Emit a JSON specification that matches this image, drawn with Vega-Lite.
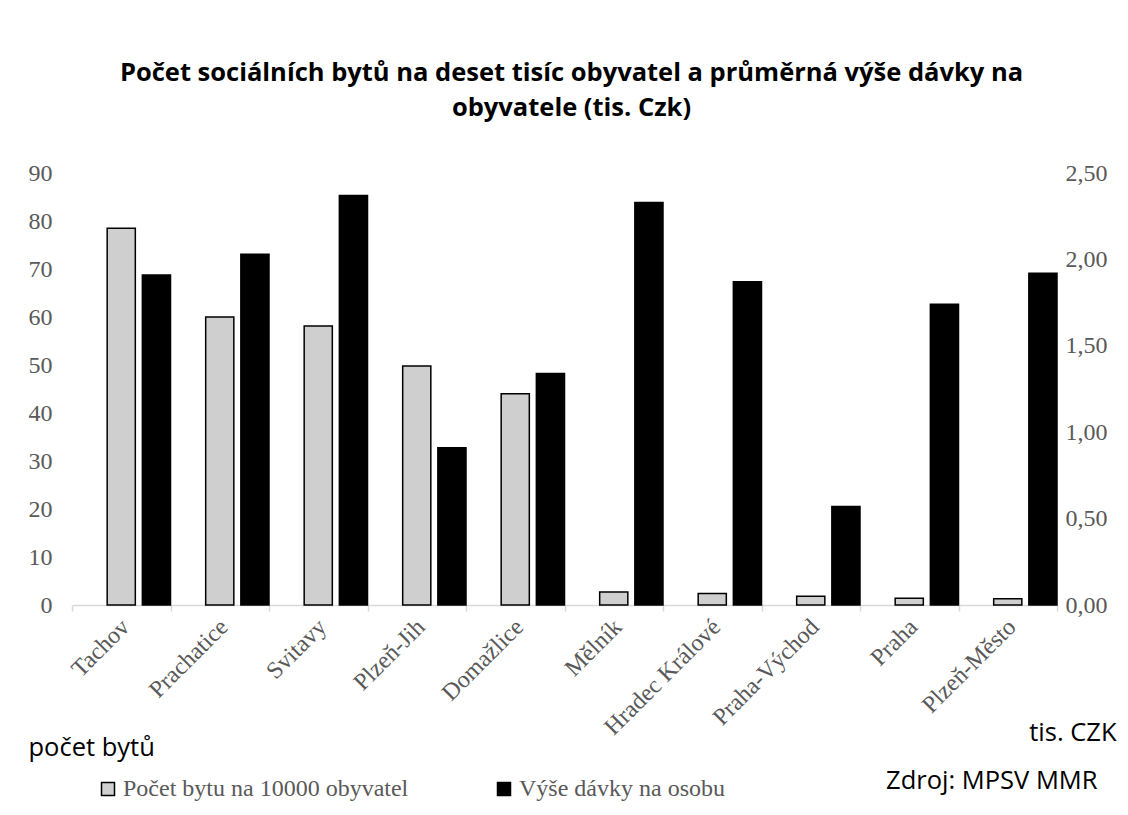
{
  "$schema": "https://vega.github.io/schema/vega-lite/v6.json",
  "width": 985,
  "height": 432,
  "autosize": {"type": "none"},
  "padding": {"left": 72, "top": 173, "right": 71, "bottom": 210},
  "background": "white",
  "title": {
    "text": ["Počet sociálních bytů na deset tisíc obyvatel a průměrná výše dávky na", "obyvatele (tis. Czk)"],
    "font": "Open Sans",
    "fontSize": 25.5,
    "fontWeight": "bold",
    "color": "#000000",
    "anchor": "middle",
    "frame": "group",
    "lineHeight": 35,
    "offset": 40,
    "dx": 7
  },
  "config": {
    "view": {"stroke": null},
    "axis": {"labelFont": "Liberation Serif", "labelColor": "#595959", "labelFontSize": 24, "grid": false}
  },
  "data": {
    "values": [
      {"okres": "Tachov", "serie": "Počet bytu na 10000 obyvatel", "byty": 78.5, "davka": null},
      {"okres": "Prachatice", "serie": "Počet bytu na 10000 obyvatel", "byty": 60.0, "davka": null},
      {"okres": "Svitavy", "serie": "Počet bytu na 10000 obyvatel", "byty": 58.1, "davka": null},
      {"okres": "Plzeň-Jih", "serie": "Počet bytu na 10000 obyvatel", "byty": 49.8, "davka": null},
      {"okres": "Domažlice", "serie": "Počet bytu na 10000 obyvatel", "byty": 44.0, "davka": null},
      {"okres": "Mělník", "serie": "Počet bytu na 10000 obyvatel", "byty": 2.7, "davka": null},
      {"okres": "Hradec Králové", "serie": "Počet bytu na 10000 obyvatel", "byty": 2.4, "davka": null},
      {"okres": "Praha-Východ", "serie": "Počet bytu na 10000 obyvatel", "byty": 1.8, "davka": null},
      {"okres": "Praha", "serie": "Počet bytu na 10000 obyvatel", "byty": 1.4, "davka": null},
      {"okres": "Plzeň-Město", "serie": "Počet bytu na 10000 obyvatel", "byty": 1.3, "davka": null},
      {"okres": "Tachov", "serie": "Výše dávky na osobu", "byty": null, "davka": 1.91},
      {"okres": "Prachatice", "serie": "Výše dávky na osobu", "byty": null, "davka": 2.03},
      {"okres": "Svitavy", "serie": "Výše dávky na osobu", "byty": null, "davka": 2.37},
      {"okres": "Plzeň-Jih", "serie": "Výše dávky na osobu", "byty": null, "davka": 0.91},
      {"okres": "Domažlice", "serie": "Výše dávky na osobu", "byty": null, "davka": 1.34},
      {"okres": "Mělník", "serie": "Výše dávky na osobu", "byty": null, "davka": 2.33},
      {"okres": "Hradec Králové", "serie": "Výše dávky na osobu", "byty": null, "davka": 1.87},
      {"okres": "Praha-Východ", "serie": "Výše dávky na osobu", "byty": null, "davka": 0.57},
      {"okres": "Praha", "serie": "Výše dávky na osobu", "byty": null, "davka": 1.74},
      {"okres": "Plzeň-Město", "serie": "Výše dávky na osobu", "byty": null, "davka": 1.92}
    ]
  },
  "encoding": {
    "x": {
      "field": "okres",
      "type": "nominal",
      "sort": null,
      "scale": {"paddingInner": 0, "paddingOuter": 0},
      "axis": {
        "title": "Zdroj: MPSV MMR",
        "titleFont": "Open Sans",
        "titleFontSize": 25.5,
        "titleFontWeight": "normal",
        "titleColor": "#000000",
        "titleX": 1025,
        "titleY": 183,
        "titleAlign": "right",
        "titleBaseline": "alphabetic",
        "labelAngle": -45,
        "labelAlign": "right",
        "labelBaseline": "middle",
        "labelPadding": 12,
        "labelOffset": 4,
        "domainColor": "#d9d9d9",
        "domainWidth": 1.5,
        "tickColor": "#d9d9d9",
        "tickWidth": 1.5,
        "tickSize": 6,
        "tickBand": "extent"
      }
    },
    "xOffset": {
      "field": "serie",
      "type": "nominal",
      "scale": {"domain": ["_", "Počet bytu na 10000 obyvatel", "Výše dávky na osobu"], "paddingInner": 0.2, "paddingOuter": 0}
    },
    "color": {
      "field": "serie",
      "type": "nominal",
      "scale": {"domain": ["Počet bytu na 10000 obyvatel", "Výše dávky na osobu"], "range": ["#d0cfd0", "#000000"]},
      "legend": {
        "title": null,
        "orient": "none",
        "legendX": 24,
        "legendY": 604,
        "direction": "horizontal",
        "symbolType": "square",
        "symbolSize": 169,
        "symbolStrokeColor": "#000000",
        "symbolStrokeWidth": 1.5,
        "symbolOpacity": 1,
        "labelFont": "Liberation Serif",
        "labelFontSize": 24,
        "labelColor": "#595959",
        "labelOffset": 3,
        "labelLimit": 400,
        "columnPadding": 83
      }
    }
  },
  "layer": [
    {
      "transform": [{"filter": "datum.serie === 'Počet bytu na 10000 obyvatel'"}],
      "mark": {"type": "bar", "stroke": "#000000", "strokeWidth": 1.5, "opacity": 1},
      "encoding": {
        "y": {
          "field": "byty",
          "type": "quantitative",
          "scale": {"domain": [0, 90], "nice": false},
          "axis": {
            "values": [0, 10, 20, 30, 40, 50, 60, 70, 80, 90],
            "domain": false,
            "ticks": false,
            "labelPadding": 20,
            "title": "počet bytů",
            "titleFont": "Open Sans",
            "titleFontSize": 25.5,
            "titleFontWeight": "normal",
            "titleColor": "#000000",
            "titleAngle": 0,
            "titleX": -44,
            "titleY": 582,
            "titleAlign": "left",
            "titleBaseline": "alphabetic"
          }
        }
      }
    },
    {
      "transform": [{"filter": "datum.serie === 'Výše dávky na osobu'"}],
      "mark": {"type": "bar", "stroke": "#000000", "strokeWidth": 1.5, "opacity": 1},
      "encoding": {
        "y": {
          "field": "davka",
          "type": "quantitative",
          "scale": {"domain": [0, 2.5], "nice": false},
          "axis": {
            "orient": "right",
            "values": [0, 0.5, 1, 1.5, 2, 2.5],
            "labelExpr": "replace(format(datum.value, '.2f'), '.', ',')",
            "domain": false,
            "ticks": false,
            "labelPadding": 8,
            "title": "tis. CZK",
            "titleFont": "Open Sans",
            "titleFontSize": 25.5,
            "titleFontWeight": "normal",
            "titleColor": "#000000",
            "titleAngle": 0,
            "titleX": 59,
            "titleY": 567,
            "titleAlign": "right",
            "titleBaseline": "alphabetic"
          }
        }
      }
    }
  ],
  "resolve": {"scale": {"y": "independent"}}
}
